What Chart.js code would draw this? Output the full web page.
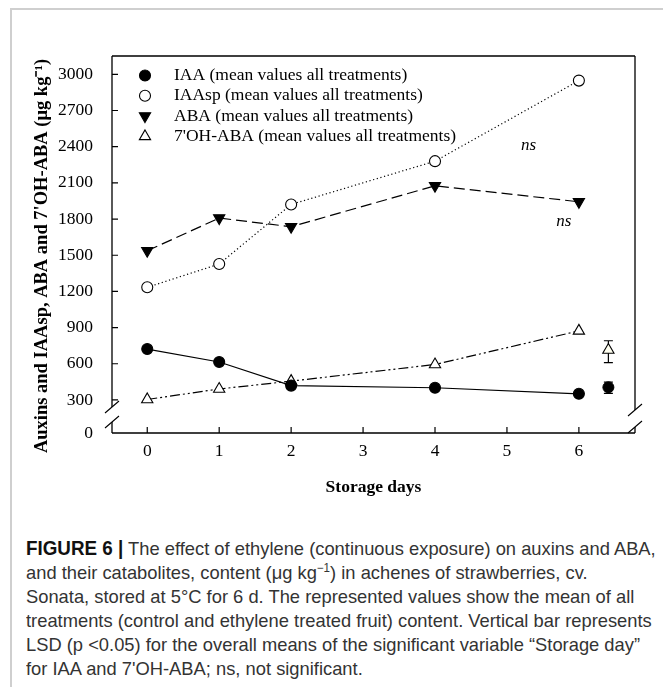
<!DOCTYPE html>
<html>
<head>
<meta charset="utf-8">
<script src="https://cdn.jsdelivr.net/npm/chart.js@4.4.1/dist/chart.umd.min.js"></script>
<style>
  html, body { margin: 0; padding: 0; background: #fff; }
  #page { position: relative; width: 663px; height: 687px; overflow: hidden; }
  #marco { position: absolute; left: 10px; top: 8px; right: -5px; bottom: -5px;
           border-left: 2px solid #cfcfcf; border-top: 2px solid #cfcfcf; }
  #grafico { position: absolute; left: 0; top: 0; }
  #pie { position: absolute; left: 26px; top: 536px; width: 700px;
         font-family: "Liberation Sans", Arial, sans-serif;
         font-size: 19px; line-height: 24px; color: #333; white-space: nowrap;
         transform: scaleX(0.965); transform-origin: 0 0; }
  #pie b { color: #111; font-size: 19.5px; }
  #pie sup { font-size: 12px; line-height: 0; }
</style>
</head>
<body>
<div id="page">
  <div id="marco"></div>
  <canvas id="grafico" width="663" height="505"></canvas>
  <div id="pie">
    <b>FIGURE 6 |</b> The effect of ethylene (continuous exposure) on auxins and ABA,<br>
    and their catabolites, content (μg kg<sup>−1</sup>) in achenes of strawberries, cv.<br>
    Sonata, stored at 5°C for 6 d. The represented values show the mean of all<br>
    treatments (control and ethylene treated fruit) content. Vertical bar represents<br>
    LSD (p &lt;0.05) for the overall means of the significant variable “Storage day”<br>
    for IAA and 7'OH-ABA; ns, not significant.
  </div>
</div>
<script>
// ====================================================================
// Datos
// ====================================================================
const dias = [0, 1, 2, 4, 6];
const iaa = [722, 615, 419, 401, 351];
const iaasp = [1234, 1427, 1921, 2280, 2948];
const aba = [1537, 1808, 1736, 2076, 1943];
const ohAba = [304, 391, 456, 594, 873];

const nombresSeries = [
    'IAA (mean values all treatments)',
    'IAAsp (mean values all treatments)',
    'ABA (mean values all treatments)',
    "7'OH-ABA (mean values all treatments)"
];

// barras LSD (solo IAA y 7'OH-ABA)
const lsdDia = 6.41;
const lsdOhAba = { media: 714, bajo: 609, alto: 791 };
const lsdIaa = { media: 405, bajo: 355, alto: 448 };

// texto "ns"
const marcasNs = [
    { x: 5.3, y: 2410 },
    { x: 5.79, y: 1780 }
];

const ticksY = [300, 600, 900, 1200, 1500, 1800, 2100, 2400, 2700, 3000];
const ticksX = [0, 1, 2, 3, 4, 5, 6];
const yMin = 26;   // el "0" del eje roto
const yMax = 3152;

const puntos = (ys) => dias.map((d, i) => ({ x: d, y: ys[i] }));

Chart.defaults.font.family = '"Liberation Serif", "Times New Roman", serif';
Chart.defaults.color = '#000';

// estilos de marcador para la leyenda manual
const estilos = [
    { forma: 'circle', relleno: '#000', rot: 0, r: 5.5 },
    { forma: 'circle', relleno: '#fff', rot: 0, r: 5.5 },
    { forma: 'triangle', relleno: '#000', rot: 180, r: 6.5 },
    { forma: 'triangle', relleno: '#fff', rot: 0, r: 6.5 }
];

function dibujarMarcador(ctx, est, x, y) {
    ctx.save();
    ctx.fillStyle = est.relleno;
    ctx.strokeStyle = '#000';
    ctx.lineWidth = 1.1;
    ctx.setLineDash([]);
    ctx.beginPath();
    if (est.forma === 'circle') {
        ctx.arc(x, y, est.r, 0, Math.PI * 2);
    } else {
        const s = est.rot ? -1 : 1;
        const r = est.r;
        ctx.moveTo(x, y - s * r);
        ctx.lineTo(x + r * 0.866, y + s * r * 0.5);
        ctx.lineTo(x - r * 0.866, y + s * r * 0.5);
        ctx.closePath();
    }
    ctx.fill();
    ctx.stroke();
    ctx.restore();
}

// Barras de error detrás de los marcadores
const pluginLsd = {
    id: 'lsd',
    beforeDatasetsDraw(chart) {
        const ctx = chart.ctx;
        const sx = chart.scales.x, sy = chart.scales.y;
        const x = sx.getPixelForValue(lsdDia);
        ctx.save();
        ctx.strokeStyle = '#000';
        ctx.lineWidth = 1.2;
        [lsdOhAba, lsdIaa].forEach(b => {
            const y1 = sy.getPixelForValue(b.alto), y2 = sy.getPixelForValue(b.bajo);
            ctx.beginPath();
            ctx.moveTo(x, y1); ctx.lineTo(x, y2);
            ctx.moveTo(x - 4.5, y1); ctx.lineTo(x + 4.5, y1);
            ctx.moveTo(x - 4.5, y2); ctx.lineTo(x + 4.5, y2);
            ctx.stroke();
        });
        ctx.restore();
    }
};

// Marco con ejes rotos, ticks hacia dentro, títulos, leyenda y "ns"
const pluginMarco = {
    id: 'marco',
    afterDraw(chart) {
        const ctx = chart.ctx;
        const a = chart.chartArea;
        const sx = chart.scales.x, sy = chart.scales.y;
        ctx.save();
        ctx.strokeStyle = '#000';
        ctx.lineWidth = 1.3;
        ctx.setLineDash([]);

        const cortes = { izq: [a.bottom - 26, a.bottom - 11], der: [a.bottom - 23, a.bottom - 6] };
        ctx.beginPath();
        ctx.moveTo(a.left, a.top); ctx.lineTo(a.right, a.top);
        ctx.moveTo(a.left, a.bottom); ctx.lineTo(a.right, a.bottom);
        ctx.moveTo(a.left, a.top); ctx.lineTo(a.left, cortes.izq[0]);
        ctx.moveTo(a.left, cortes.izq[1]); ctx.lineTo(a.left, a.bottom);
        ctx.moveTo(a.right, a.top); ctx.lineTo(a.right, cortes.der[0]);
        ctx.moveTo(a.right, cortes.der[1]); ctx.lineTo(a.right, a.bottom);
        ctx.stroke();

        // barras diagonales del corte
        ctx.lineWidth = 1.1;
        ctx.beginPath();
        [[a.left, cortes.izq], [a.right, cortes.der]].forEach(([x, c]) => {
            c.forEach(y => {
                ctx.moveTo(x - 7, y + 6);
                ctx.lineTo(x + 7, y - 6);
            });
        });
        ctx.stroke();

        // ticks hacia dentro
        ctx.lineWidth = 1.2;
        ctx.beginPath();
        ticksY.forEach(v => {
            const y = sy.getPixelForValue(v);
            ctx.moveTo(a.left, y); ctx.lineTo(a.left + 6, y);
        });
        ticksX.forEach(v => {
            const x = sx.getPixelForValue(v);
            ctx.moveTo(x, a.bottom); ctx.lineTo(x, a.bottom - 6);
        });
        ctx.stroke();

        // títulos de ejes
        ctx.fillStyle = '#000';
        ctx.textAlign = 'center';
        ctx.textBaseline = 'middle';
        ctx.font = 'bold 17.5px "Liberation Serif", serif';
        ctx.fillText('Storage days', (a.left + a.right) / 2, 487);
        ctx.save();
        ctx.translate(42, 256);
        ctx.rotate(-Math.PI / 2);
        ctx.font = 'bold 18.5px "Liberation Serif", serif';
        ctx.fillText("Auxins and IAAsp, ABA and 7'OH-ABA (μg kg⁻¹)", 0, 0);
        ctx.restore();

        // leyenda
        ctx.font = '17.5px "Liberation Serif", serif';
        ctx.textAlign = 'left';
        nombresSeries.forEach((n, i) => {
            const y = a.top + 19.5 + i * 20.3;
            dibujarMarcador(ctx, estilos[i], a.left + 33, y);
            ctx.fillStyle = '#000';
            ctx.fillText(n, a.left + 62, y);
        });

        // ns
        ctx.font = 'italic 17px "Liberation Serif", serif';
        ctx.textAlign = 'center';
        marcasNs.forEach(m => {
            ctx.fillText('ns', sx.getPixelForValue(m.x), sy.getPixelForValue(m.y));
        });
        ctx.restore();
    }
};

function serie(nombre, datos, est, dash) {
    return {
        label: nombre,
        data: datos,
        borderColor: '#000',
        borderWidth: 1.2,
        borderDash: dash,
        pointStyle: est.forma,
        rotation: est.rot,
        pointRadius: est.r,
        pointBackgroundColor: est.relleno,
        pointBorderColor: '#000',
        pointBorderWidth: 1.1,
        showLine: true,
        tension: 0
    };
}

new Chart(document.getElementById('grafico').getContext('2d'), {
    type: 'scatter',
    data: {
        datasets: [
            serie(nombresSeries[0], puntos(iaa), estilos[0], []),
            serie(nombresSeries[1], puntos(iaasp), estilos[1], [1.2, 2.6]),
            serie(nombresSeries[2], puntos(aba), estilos[2], [11, 5]),
            serie(nombresSeries[3], puntos(ohAba), estilos[3], [10, 3, 2, 3, 2, 3]),
            {
                label: 'LSD',
                data: [{ x: lsdDia, y: lsdOhAba.media }],
                pointStyle: 'triangle', pointRadius: 6.5,
                pointBackgroundColor: '#fffff0', pointBorderColor: '#000', pointBorderWidth: 1.1,
                showLine: false
            },
            {
                label: 'LSD',
                data: [{ x: lsdDia, y: lsdIaa.media }],
                pointStyle: 'circle', pointRadius: 5.5,
                pointBackgroundColor: '#000', pointBorderColor: '#000',
                showLine: false
            }
        ]
    },
    options: {
        responsive: false,
        animation: false,
        clip: false,
        layout: { padding: { left: 0, top: 56, right: 28, bottom: 0 } },
        plugins: { legend: { display: false }, tooltip: { enabled: false } },
        scales: {
            x: {
                type: 'linear',
                min: -0.49,
                max: 6.78,
                grid: { display: false },
                border: { display: false },
                afterBuildTicks: (s) => { s.ticks = ticksX.map(v => ({ value: v })); },
                afterFit: (s) => { s.height = 505 - 433; },
                ticks: { padding: 0, font: { size: 17.5 }, color: '#000' }
            },
            y: {
                type: 'linear',
                min: yMin,
                max: yMax,
                grid: { display: false },
                border: { display: false },
                afterBuildTicks: (s) => { s.ticks = [yMin].concat(ticksY).map(v => ({ value: v })); },
                afterFit: (s) => { s.width = 112; },
                ticks: {
                    padding: 11,
                    font: { size: 17.5 },
                    color: '#000',
                    callback: (v) => (v === yMin ? '0' : String(v))
                }
            }
        }
    },
    plugins: [pluginLsd, pluginMarco]
});
</script>
</body>
</html>
